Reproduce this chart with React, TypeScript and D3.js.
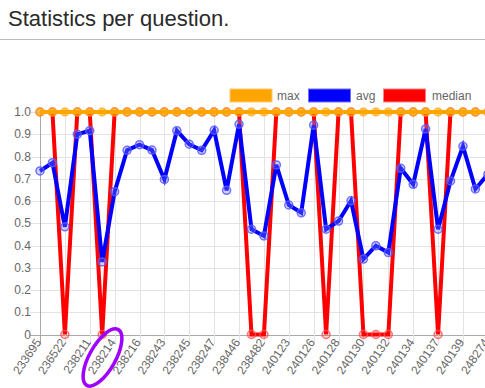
import React, { useEffect, useRef } from 'react';
import * as d3 from 'd3';

// question ids shown on the x axis (every second question gets a label)
const tickLabels = [
    '233695', '236522', '238211', '238214', '238216', '238243', '238245',
    '238247', '238446', '238482', '240123', '240126', '240128', '240130',
    '240132', '240134', '240137', '240139', '248274'
];

const avgValues = [
    0.735, 0.772, 0.484, 0.9, 0.916, 0.326, 0.642, 0.828, 0.853, 0.829,
    0.697, 0.916, 0.855, 0.828, 0.918, 0.648, 0.945, 0.473, 0.443, 0.762,
    0.582, 0.547, 0.941, 0.473, 0.51, 0.601, 0.339, 0.399, 0.368, 0.747,
    0.675, 0.924, 0.473, 0.69, 0.846, 0.654, 0.72
];

const medianValues = [
    1, 1, 0, 1, 1, 0, 1, 1, 1, 1, 1, 1, 1, 1, 1, 1, 1, 0, 0, 1,
    1, 1, 1, 0, 1, 1, 0, 0, 0, 1, 1, 1, 0, 1, 1, 1, 1
];

const maxValues = [
    1, 1, 1, 1, 1, 1, 1, 1, 1, 1, 1, 1, 1, 1, 1, 1, 1, 1, 1, 1,
    1, 1, 1, 1, 1, 1, 1, 1, 1, 1, 1, 1, 1, 1, 1, 1, 1
];

const yTicks = [0, 0.1, 0.2, 0.3, 0.4, 0.5, 0.6, 0.7, 0.8, 0.9, 1.0];

const FONT = "'Liberation Sans', Arial, Helvetica, sans-serif";

const App = () => {
    const ref = useRef(null);

    useEffect(() => {
        const width = 485;
        const svg = d3.select(ref.current);
        svg.selectAll('*').remove();

        // header
        svg.append('text')
            .attr('x', 8)
            .attr('y', 26)
            .attr('font-family', FONT)
            .attr('font-size', 22)
            .attr('fill', '#2a2a2a')
            .text('Statistics per question.');
        svg.append('line')
            .attr('x1', 0).attr('x2', width)
            .attr('y1', 39.5).attr('y2', 39.5)
            .attr('stroke', '#bbb');

        const n = avgValues.length;
        const x = d3.scaleLinear().domain([0, n - 1]).range([40, 40 + (n - 1) * 12.44]);
        const y = d3.scaleLinear().domain([0, 1]).range([334.5, 112]);
        const bottom = y(0);

        // grid
        const grid = svg.append('g');
        grid.selectAll('line.h')
            .data(yTicks)
            .enter()
            .append('line')
            .attr('x1', 30).attr('x2', width)
            .attr('y1', d => Math.round(y(d)) + 0.5)
            .attr('y2', d => Math.round(y(d)) + 0.5)
            .attr('stroke', d => (d === 0 ? '#aaa' : '#e3e3e3'));
        grid.selectAll('line.v')
            .data(tickLabels)
            .enter()
            .append('line')
            .attr('x1', (d, i) => Math.round(x(i * 2)) + 0.5)
            .attr('x2', (d, i) => Math.round(x(i * 2)) + 0.5)
            .attr('y1', y(1))
            .attr('y2', bottom + 10)
            .attr('stroke', (d, i) => (i === 0 ? '#aaa' : '#e3e3e3'));

        // y tick labels
        svg.append('g')
            .selectAll('text')
            .data(yTicks)
            .enter()
            .append('text')
            .attr('x', 31)
            .attr('y', d => y(d))
            .attr('dy', '0.35em')
            .attr('text-anchor', 'end')
            .attr('font-family', FONT)
            .attr('font-size', 12)
            .attr('fill', '#666')
            .text(d => (d === 0 ? '0' : d.toFixed(1)));

        // x tick labels, rotated
        svg.append('g')
            .selectAll('text')
            .data(tickLabels)
            .enter()
            .append('text')
            .attr('transform', (d, i) => `translate(${x(i * 2) - 1.8},${bottom + 5.3}) rotate(-56)`)
            .attr('dy', '0.35em')
            .attr('text-anchor', 'end')
            .attr('font-family', FONT)
            .attr('font-size', 12)
            .attr('fill', '#666')
            .text(d => d);

        const line = d3.line()
            .x((d, i) => x(i))
            .y(d => y(d));

        const series = [
            { values: medianValues, color: '#ff0000', pointFill: 'rgba(255,0,0,0.15)', pointStroke: 'rgba(255,80,80,0.8)' },
            { values: avgValues, color: '#0000ff', pointFill: 'rgba(120,120,255,0.35)', pointStroke: 'rgba(90,90,255,0.85)' },
            { values: maxValues, color: '#ffa500', pointFill: 'rgba(255,165,0,0.6)', pointStroke: 'rgba(255,165,0,0.6)' }
        ];

        series.forEach(s => {
            const g = svg.append('g');
            g.append('path')
                .attr('d', line(s.values))
                .attr('fill', 'none')
                .attr('stroke', s.color)
                .attr('stroke-width', 4)
                .attr('stroke-linejoin', 'miter');
            g.selectAll('circle')
                .data(s.values)
                .enter()
                .append('circle')
                .attr('cx', (d, i) => x(i))
                .attr('cy', d => y(d))
                .attr('r', 4)
                .attr('fill', s.pointFill)
                .attr('stroke', s.pointStroke)
                .attr('stroke-width', 1.5);
        });

        // legend
        const legend = [
            { label: 'max', fill: '#ffa500', stroke: '#ffc870', bx: 230, tx: 277 },
            { label: 'avg', fill: '#0000ff', stroke: '#7070ff', bx: 308.5, tx: 356 },
            { label: 'median', fill: '#ff0000', stroke: '#ff8080', bx: 383.5, tx: 432 }
        ];
        const lg = svg.append('g');
        legend.forEach(l => {
            lg.append('rect')
                .attr('x', l.bx).attr('y', 89)
                .attr('width', 42).attr('height', 13)
                .attr('fill', l.fill)
                .attr('stroke', l.stroke);
            lg.append('text')
                .attr('x', l.tx).attr('y', 100)
                .attr('font-family', FONT)
                .attr('font-size', 12)
                .attr('fill', '#666')
                .text(l.label);
        });

        // hand-drawn highlight around one question id
        svg.append('ellipse')
            .attr('cx', 102.5).attr('cy', 357.5)
            .attr('rx', 32).attr('ry', 13)
            .attr('transform', 'rotate(-60.6 102.5 357.5)')
            .attr('fill', 'none')
            .attr('stroke', '#a000ff')
            .attr('stroke-width', 3.5);
    }, []);

    return (
        <svg
            ref={ref}
            width={485}
            height={388}
            style={{ position: 'absolute', left: 0, top: 0, background: '#fff' }}
        />
    );
};

export default App;
